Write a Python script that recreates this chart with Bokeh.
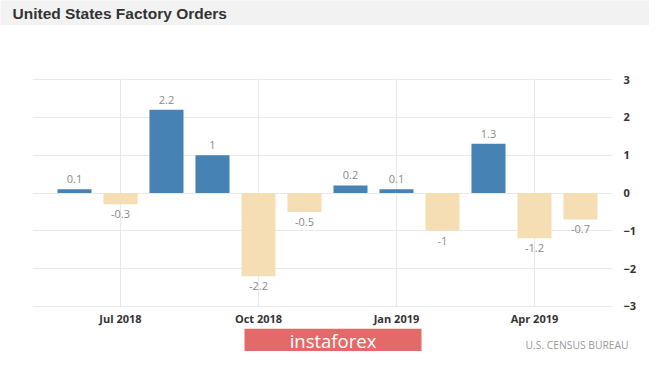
from bokeh.plotting import figure
from bokeh.models import ColumnDataSource, FixedTicker, Range1d, BoxAnnotation, Label
from bokeh.layouts import column
from bokeh.embed import file_html
from bokeh.resources import INLINE
from bokeh.core.properties import value

# ---- data ----
months = ["Jun 2018", "Jul 2018", "Aug 2018", "Sep 2018", "Oct 2018", "Nov 2018",
          "Dec 2018", "Jan 2019", "Feb 2019", "Mar 2019", "Apr 2019", "May 2019"]
values = [0.1, -0.3, 2.2, 1.0, -2.2, -0.5, 0.2, 0.1, -1.0, 1.3, -1.2, -0.7]
tick_months = ["Jul 2018", "Oct 2018", "Jan 2019", "Apr 2019"]
y_ticks = [-3, -2, -1, 0, 1, 2, 3]
title_text = "United States Factory Orders"
source_text = "U.S. CENSUS BUREAU"
brand_text = "instaforex"

POS = "#4682b4"
NEG = "#f5deb3"
TXT = "#333333"
LBL = "#8a8a8a"
GRID = "#e9e9e9"
W = 649


def blank(h, bg):
    f = figure(width=W, height=h, output_backend="svg", toolbar_location=None,
               x_range=Range1d(0, W), y_range=Range1d(0, h),
               x_axis_location=None, y_axis_location=None,
               min_border=0, min_border_left=0, min_border_right=0,
               min_border_top=0, min_border_bottom=0)
    f.frame_align = False
    f.grid.visible = False
    f.outline_line_color = None
    f.background_fill_color = bg
    f.border_fill_color = bg
    return f


# ---- header ----
HH = 25
header = blank(HH, "#f2f2f2")
header.add_layout(Label(x=12, y=HH / 2, x_units="screen", y_units="screen", text=title_text,
                        text_baseline="middle", text_font="Liberation Sans",
                        text_font_style="bold", text_font_size="15.5px", text_color=TXT))

# ---- main chart ----
xs = list(range(len(months)))
colors = [POS if v >= 0 else NEG for v in values]
texts = [f"{v:g}" for v in values]

bars = ColumnDataSource(dict(x=xs, top=values, color=colors))
pos = ColumnDataSource(dict(x=[x for x, v in zip(xs, values) if v >= 0],
                            y=[v for v in values if v >= 0],
                            t=[t for t, v in zip(texts, values) if v >= 0]))
neg = ColumnDataSource(dict(x=[x for x, v in zip(xs, values) if v < 0],
                            y=[v for v in values if v < 0],
                            t=[t for t, v in zip(texts, values) if v < 0]))

MH = 303
p = figure(width=W, height=MH, output_backend="svg", toolbar_location=None,
           x_range=Range1d(-0.913, 11.696), y_range=Range1d(-3.03, 3.03),
           x_axis_location="below", y_axis_location="right",
           min_border_left=32, min_border_right=37, min_border_top=53, min_border_bottom=20)
p.frame_align = False
p.outline_line_color = None
p.background_fill_color = "white"
p.border_fill_color = "white"

p.vbar(x="x", top="top", bottom=0, width=0.74, color="color", line_color=None, source=bars)

common = dict(text_align="center", text_font=value("Open Sans"), text_font_size="11px",
              text_color=LBL)
p.text(x="x", y="y", text="t", source=pos, text_baseline="bottom", y_offset=-6, **common)
p.text(x="x", y="y", text="t", source=neg, text_baseline="top", y_offset=6, **common)

tick_pos = [months.index(m) for m in tick_months]
p.xaxis.ticker = FixedTicker(ticks=tick_pos)
p.xaxis.major_label_overrides = {tp: m for tp, m in zip(tick_pos, tick_months)}
p.yaxis.ticker = FixedTicker(ticks=y_ticks)
for ax in (p.xaxis, p.yaxis):
    ax.axis_line_color = None
    ax.major_tick_line_color = None
    ax.minor_tick_line_color = None
    ax.major_tick_out = 0
    ax.major_tick_in = 0
    ax.minor_tick_out = 0
    ax.minor_tick_in = 0
    ax.major_label_text_font = "Open Sans"
    ax.major_label_text_font_size = "11px"
    ax.major_label_text_color = TXT
    ax.major_label_text_font_style = "bold"
p.xaxis.major_label_standoff = 3
p.yaxis.major_label_standoff = 11
p.xgrid.grid_line_color = GRID
p.ygrid.grid_line_color = GRID

# ---- footer: watermark + source ----
FH = 351 - HH - MH
footer = blank(FH, "white")
footer.add_layout(BoxAnnotation(left=244, right=421, bottom=0, top=FH,
                                left_units="screen", right_units="screen",
                                top_units="screen", bottom_units="screen",
                                fill_color="#e46a6a", fill_alpha=1, line_color=None))
footer.add_layout(Label(x=332.5, y=FH / 2, x_units="screen", y_units="screen", text=brand_text,
                        text_align="center", text_baseline="middle", text_font="Open Sans",
                        text_font_size="18.5px", text_color="white"))
footer.add_layout(Label(x=628, y=7, x_units="screen", y_units="screen", text=source_text,
                        text_align="right", text_baseline="middle", text_font="Open Sans",
                        text_font_size="10.3px", text_color="#999999"))

layout = column(header, p, footer, spacing=0)
open("out.html", "w").write(file_html(layout, INLINE))
